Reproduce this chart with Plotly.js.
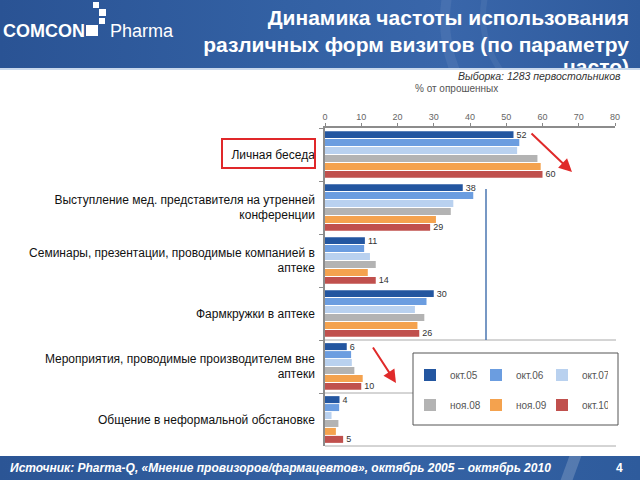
<!DOCTYPE html>
<html>
<head>
<meta charset="utf-8">
<script src="https://cdn.plot.ly/plotly-3.0.1.min.js"></script>
<style>
  html, body { margin: 0; padding: 0; background: #ffffff; }
  #wrap { position: relative; width: 640px; height: 480px; overflow: hidden; }
  #banner { position: absolute; left: 0; top: 0; width: 640px; height: 68px; overflow: hidden;
    background: linear-gradient(90deg, #2a5394 0%, #3361a4 45%, #3966aa 70%, #2f5b9d 100%); }
  #bannerline { position: absolute; left: 0; top: 68px; width: 640px; height: 2px; background: #c9d8ec; }
  .ring { position: absolute; border-radius: 50%; }
  #title { position: absolute; right: 11px; top: 4px; text-align: right; white-space: nowrap;
    font-family: "Liberation Sans", Arial, sans-serif; font-weight: bold; font-size: 21px; line-height: 27px; color: #ffffff; }
  #title .l3 { display: block; margin-top: -5px; }
  #footer { position: absolute; left: 0; top: 456px; width: 640px; height: 24px;
    background: linear-gradient(90deg, #2b5595 0%, #3563a5 60%, #2e5b9c 100%); }
  #stripe { position: absolute; left: 565px; top: 456px; width: 12px; height: 24px; background: rgba(255,255,255,0.18); transform: skewX(-20deg); }
  .sq { position: absolute; background: #ffffff; }
  #chart { position: absolute; left: 0; top: 0; width: 640px; height: 480px; }
</style>
</head>
<body>
<div id="wrap">
  <div id="banner">
    <div class="ring" style="left:440px;top:-120px;width:260px;height:260px;border:10px solid rgba(255,255,255,0.07);"></div>
    <div class="ring" style="left:480px;top:-80px;width:180px;height:180px;border:6px solid rgba(255,255,255,0.06);"></div>
    <div id="title"></div>
  </div>
  <div id="bannerline"></div>
  <div class="sq" style="left:93px;top:2px;width:6px;height:6px;"></div>
  <div class="sq" style="left:99px;top:9px;width:7px;height:7px;"></div>
  <div class="sq" style="left:99px;top:18px;width:6px;height:6px;"></div>
  <div class="sq" style="left:86px;top:25px;width:12px;height:11px;"></div>
  <div id="footer"></div>
  <div id="stripe"></div>
  <div id="chart"></div>
</div>
<script>
// ---- data ----
const categories = [
  "Личная беседа",
  "Выступление мед. представителя на утренней<br>конференции",
  "Семинары, презентации, проводимые компанией в<br>аптеке",
  "Фармкружки в аптеке",
  "Мероприятия, проводимые производителем вне<br>аптеки",
  "Общение в неформальной обстановке"
];
const seriesNames = ["окт.05", "окт.06", "окт.07", "ноя.08", "ноя.09", "окт.10"];
const okt05 = [52, 38, 11, 30, 6, 4];
const okt06 = [53.6, 40.9, 10.8, 28, 7.2, 3.9];
const okt07 = [53, 35.4, 12.4, 24.8, 7.4, 1.8];
const noy08 = [58.6, 34.7, 14, 27.4, 8.1, 3.7];
const noy09 = [59.5, 30.6, 11.8, 25.5, 10.4, 3];
const okt10 = [60, 29, 14, 26, 10, 5];
const xTicks = [0, 10, 20, 30, 40, 50, 60, 70, 80];

const titleLines = ["Динамика частоты использования", "различных форм визитов (по параметру", "часто)"];
const sampleText = "Выборка: 1283 первостольников";
const axisTitle = "% от опрошенных";
const sourceText = "Источник: Pharma-Q, «Мнение провизоров/фармацевтов», октябрь 2005 – октябрь 2010";
const pageNumber = "4";

// title lives in the banner (clipped by it, like the slide)
const titleEl = document.getElementById("title");
titleLines.forEach((line, i) => {
  const s = document.createElement("span");
  s.style.display = "block";
  if (i === 2) s.className = "l3";
  s.textContent = line;
  titleEl.appendChild(s);
});

// ---- styling ----
const seriesValues = [okt05, okt06, okt07, noy08, noy09, okt10];
const colors = ["#2356a0", "#6b9de0", "#b9d1ef", "#b3b3b3", "#f4a24e", "#c0504d"];
const labeled = [true, false, false, false, false, true];

const L = 325, R = 615, T = 128, B = 446;
const px = x => (x - L) / (R - L);
const py = y => (B - y) / (B - T);

const baseFont = "Liberation Sans, Arial, sans-serif";

const traces = seriesValues.map((vals, i) => ({
  type: "bar",
  orientation: "h",
  name: seriesNames[i],
  y: categories,
  x: vals,
  marker: { color: colors[i] },
  texttemplate: labeled[i] ? "%{x}" : "",
  textposition: labeled[i] ? "outside" : "none",
  constraintext: "none",
  cliponaxis: false,
  textfont: { family: baseFont, size: 9, color: "#333333" },
  legend: i < 3 ? "legend" : "legend2",
  hoverinfo: "x+name"
}));

const legendCommon = {
  orientation: "h",
  xanchor: "left",
  yanchor: "middle",
  bgcolor: "rgba(0,0,0,0)",
  borderwidth: 0,
  entrywidth: 21,
  entrywidthmode: "pixels",
  font: { family: baseFont, size: 10, color: "#555555" }
};

const layout = {
  width: 640,
  height: 480,
  margin: { l: L, r: 640 - R, t: T, b: 480 - B, pad: 0 },
  paper_bgcolor: "rgba(0,0,0,0)",
  plot_bgcolor: "rgba(0,0,0,0)",
  barmode: "group",
  bargap: 0.1,
  bargroupgap: 0.12,
  font: { family: baseFont, size: 10, color: "#333" },
  xaxis: {
    side: "top",
    range: [0, 80],
    tickvals: xTicks,
    ticks: "outside",
    ticklen: 3,
    tickcolor: "#888",
    showline: true,
    linecolor: "#8c8c8c",
    linewidth: 1.5,
    showgrid: false,
    zeroline: false,
    tickfont: { family: baseFont, size: 9, color: "#666666" },
    fixedrange: true
  },
  yaxis: {
    autorange: "reversed",
    type: "category",
    tickson: "boundaries",
    ticks: "outside",
    ticklen: 4,
    tickcolor: "#8c8c8c",
    showline: true,
    linecolor: "#8c8c8c",
    linewidth: 1.5,
    showgrid: false,
    zeroline: false,
    tickfont: { family: baseFont, size: 12, color: "#111111" },
    ticklabelstandoff: 6,
    fixedrange: true
  },
  legend: Object.assign({}, legendCommon, { x: px(410), y: py(375) }),
  legend2: Object.assign({}, legendCommon, { x: px(410), y: py(405) }),
  shapes: [
    { type: "line", xref: "paper", yref: "paper", x0: 0, x1: px(616), y0: py(340), y1: py(340), line: { color: "#aaaaaa", width: 1 } },
    { type: "line", xref: "paper", yref: "paper", x0: 0, x1: px(616), y0: py(393), y1: py(393), line: { color: "#aaaaaa", width: 1 } },
    { type: "line", xref: "paper", yref: "paper", x0: 0, x1: px(616), y0: 0, y1: 0, line: { color: "#aaaaaa", width: 1 } },
    { type: "line", xref: "paper", yref: "paper", x0: px(486), x1: px(486), y0: py(189), y1: py(340), line: { color: "#4a76b0", width: 1.5 } },
    { type: "rect", xref: "paper", yref: "paper", x0: px(413), x1: px(618), y0: py(353), y1: py(425), fillcolor: "#ffffff", line: { color: "#555555", width: 1 } },
    { type: "rect", xref: "paper", yref: "paper", x0: px(222), x1: px(315), y0: py(139), y1: py(168), fillcolor: "rgba(0,0,0,0)", line: { color: "#e0282a", width: 2 } }
  ],
  annotations: [
    // logo
    { xref: "paper", yref: "paper", x: px(1), y: py(31), xanchor: "left", yanchor: "middle", showarrow: false,
      text: "COMCON", font: { family: baseFont, size: 18, color: "#ffffff", weight: "bold" } },
    { xref: "paper", yref: "paper", x: px(108), y: py(31), xanchor: "left", yanchor: "middle", showarrow: false,
      text: "Pharma", font: { family: baseFont, size: 18, color: "#ffffff" } },
    // sample & axis title
    { xref: "paper", yref: "paper", x: px(623), y: py(76), xanchor: "right", yanchor: "middle", showarrow: false,
      text: sampleText, font: { family: baseFont, size: 10.5, color: "#333333", style: "italic" } },
    { xref: "paper", yref: "paper", x: px(456), y: py(89), xanchor: "center", yanchor: "middle", showarrow: false,
      text: axisTitle, font: { family: baseFont, size: 10, color: "#555555" } },
    // footer
    { xref: "paper", yref: "paper", x: px(8), y: py(468), xanchor: "left", yanchor: "middle", showarrow: false,
      text: sourceText, font: { family: baseFont, size: 12, color: "#ffffff", weight: "bold", style: "italic" } },
    { xref: "paper", yref: "paper", x: px(619), y: py(468), xanchor: "center", yanchor: "middle", showarrow: false,
      text: pageNumber, font: { family: baseFont, size: 12, color: "#ffffff", weight: "bold" } },
    // red arrows
    { xref: "paper", yref: "paper", x: px(572), y: py(172), ax: -42, ay: -40, text: "", showarrow: true,
      arrowhead: 2, arrowsize: 1.3, arrowwidth: 2, arrowcolor: "#e02a2a" },
    { xref: "paper", yref: "paper", x: px(396), y: py(383), ax: -24, ay: -37, text: "", showarrow: true,
      arrowhead: 2, arrowsize: 1.3, arrowwidth: 2, arrowcolor: "#e02a2a" }
  ]
};

Plotly.newPlot("chart", traces, layout, { displayModeBar: false, responsive: false });
</script>
</body>
</html>
